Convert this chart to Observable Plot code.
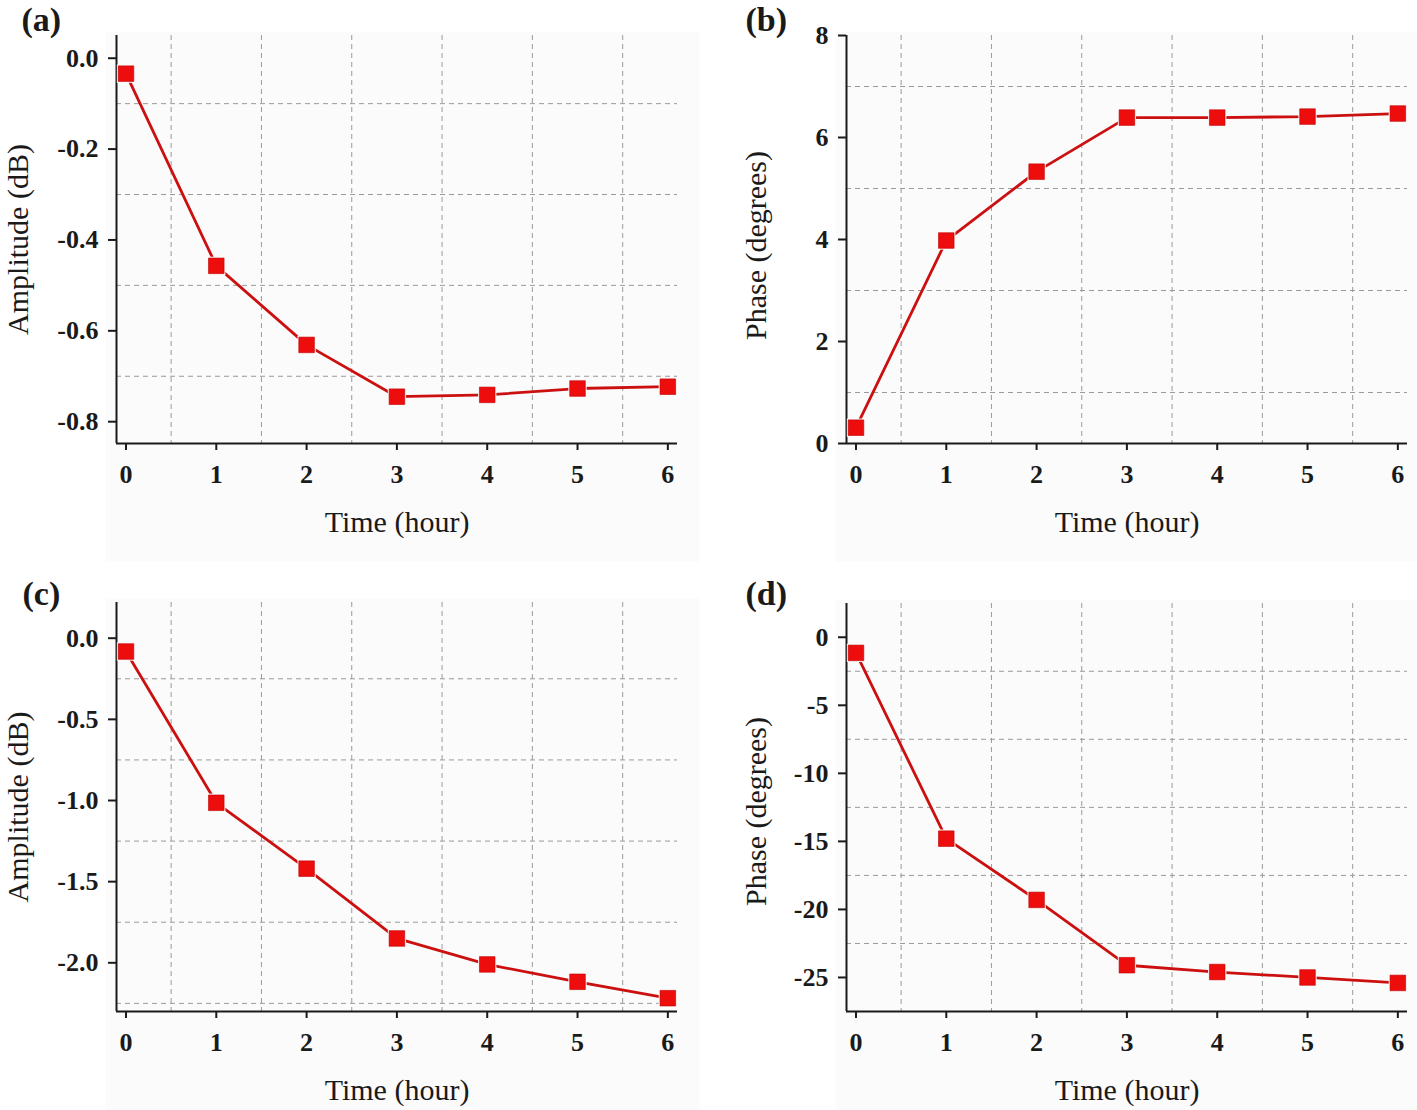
<!DOCTYPE html>
<html><head><meta charset="utf-8">
<script src="https://cdn.jsdelivr.net/npm/d3@7"></script>
<script src="https://cdn.jsdelivr.net/npm/@observablehq/plot@0.6"></script>
<style>
body{margin:0;background:#fff;}
#root{position:relative;width:1417px;height:1110px;overflow:hidden;}
.panel{position:absolute;}
.panel svg{overflow:visible;}
.panel g[aria-label="x-axis tick label"], .panel g[aria-label="y-axis tick label"]{font-weight:bold;font-size:26px;}
</style></head><body><div id="root"></div>
<script>
// ---- data ----
const hours = [0, 1, 2, 3, 4, 5, 6];
const ampA = [-0.034, -0.457, -0.631, -0.745, -0.741, -0.727, -0.723];
const phaseB = [0.31, 3.98, 5.33, 6.39, 6.39, 6.41, 6.47];
const ampC = [-0.082, -1.014, -1.42, -1.85, -2.01, -2.117, -2.218];
const phaseD = [-1.15, -14.8, -19.3, -24.1, -24.6, -25.0, -25.4];

const xTicks = [0, 1, 2, 3, 4, 5, 6];
const xGrid = [0.5, 1.5, 2.5, 3.5, 4.5, 5.5];
const xDomain = [-0.105, 6.107];

const yTicksA = [0, -0.2, -0.4, -0.6, -0.8];
const yGridA = [-0.1, -0.3, -0.5, -0.7];
const yDomainA = [-0.848, 0.05];

const yTicksB = [0, 2, 4, 6, 8];
const yGridB = [1, 3, 5, 7];
const yDomainB = [0, 8];

const yTicksC = [0, -0.5, -1.0, -1.5, -2.0];
const yGridC = [-0.25, -0.75, -1.25, -1.75, -2.25];
const yDomainC = [-2.30, 0.22];

const yTicksD = [0, -5, -10, -15, -20, -25];
const yGridD = [-2.5, -7.5, -12.5, -17.5, -22.5];
const yDomainD = [-27.5, 2.48];

const xTitle = "Time (hour)";
const ampTitle = "Amplitude (dB)";
const phaseTitle = "Phase (degrees)";

const FONT = "'Liberation Serif', 'Times New Roman', Times, serif";
const root = document.getElementById("root");

function panel(cfg) {
  const data = hours.map((h, i) => ({h, v: cfg.values[i]}));
  const grid = {stroke: "#9a9a9a", strokeDasharray: "5,4", strokeWidth: 1};
  const chart = Plot.plot({
    width: cfg.width, height: cfg.height,
    marginLeft: cfg.ml, marginRight: cfg.mr, marginTop: cfg.mt, marginBottom: cfg.mb,
    style: {fontFamily: FONT, background: "transparent", color: "#1a1a1a"},
    x: {domain: xDomain, axis: null},
    y: {domain: cfg.yDomain, axis: null},
    marks: [
      Plot.frame({fill: "#fbfbfb", stroke: null, insetLeft: -11, insetRight: -22, insetTop: -4, insetBottom: -118}),
      Plot.ruleX(xGrid, grid),
      Plot.ruleY(cfg.yGrid, grid),
      Plot.ruleX([xDomain[0]], {stroke: "#1a1a1a", strokeWidth: 2}),
      Plot.ruleY([cfg.yDomain[0]], {stroke: "#1a1a1a", strokeWidth: 2}),
      Plot.axisX({ticks: xTicks, tickSize: 7, tickPadding: 14, fontSize: 26, fontWeight: "bold", label: null, strokeWidth: 2, tickFormat: d => String(d)}),
      Plot.axisY({ticks: cfg.yTicks, tickSize: 8, tickPadding: 10, fontSize: 26, fontWeight: "bold", label: null, strokeWidth: 2, tickFormat: cfg.fmt}),
      Plot.line(data, {x: "h", y: "v", stroke: "#cc1010", strokeWidth: 2.8}),
      Plot.dot(data, {x: "h", y: "v", symbol: "square", r: 10.3, fill: "#fbfbfb"}),
      Plot.dot(data, {x: "h", y: "v", symbol: "square", r: 8.8, fill: "#ee0d0d", stroke: "#c00000", strokeWidth: 0.6}),
      Plot.text([xTitle], {frameAnchor: "bottom", dy: 79, fontSize: 30, textAnchor: "middle", lineAnchor: "middle"}),
      Plot.text([cfg.yTitle], {frameAnchor: "left", rotate: -90, dx: cfg.ytDx, dy: cfg.ytDy, fontSize: 30, textAnchor: "middle", lineAnchor: "middle"}),
      Plot.text([cfg.tag], {frameAnchor: "top-left", dx: cfg.tagDx, dy: cfg.tagDy, fontSize: 34, fontWeight: "bold", textAnchor: "start", lineAnchor: "middle"})
    ]
  });
  const div = document.createElement("div");
  div.className = "panel";
  div.style.left = cfg.left + "px";
  div.style.top = cfg.top + "px";
  div.appendChild(chart);
  root.appendChild(div);
}

const fmt1 = d => d.toFixed(1);
const fmt0 = d => String(d);

panel({tag: "(a)", values: ampA, yDomain: yDomainA, yTicks: yTicksA, yGrid: yGridA, fmt: fmt1, yTitle: ampTitle,
  left: 0, top: 0, width: 708, height: 555, ml: 116, mr: 31, mt: 35, mb: 112, ytDx: -98, ytDy: 0, tagDx: -95, tagDy: -15});
panel({tag: "(b)", values: phaseB, yDomain: yDomainB, yTicks: yTicksB, yGrid: yGridB, fmt: fmt0, yTitle: phaseTitle,
  left: 730, top: 0, width: 687, height: 555, ml: 116, mr: 10, mt: 35, mb: 112, ytDx: -90, ytDy: 6, tagDx: -101, tagDy: -15});
panel({tag: "(c)", values: ampC, yDomain: yDomainC, yTicks: yTicksC, yGrid: yGridC, fmt: fmt1, yTitle: ampTitle,
  left: 0, top: 555, width: 708, height: 555, ml: 116, mr: 31, mt: 47, mb: 99, ytDx: -98, ytDy: 0, tagDx: -94, tagDy: -8});
panel({tag: "(d)", values: phaseD, yDomain: yDomainD, yTicks: yTicksD, yGrid: yGridD, fmt: fmt0, yTitle: phaseTitle,
  left: 730, top: 555, width: 687, height: 555, ml: 116, mr: 10, mt: 48, mb: 99, ytDx: -90, ytDy: 4, tagDx: -101, tagDy: -9});
</script>
</body></html>
